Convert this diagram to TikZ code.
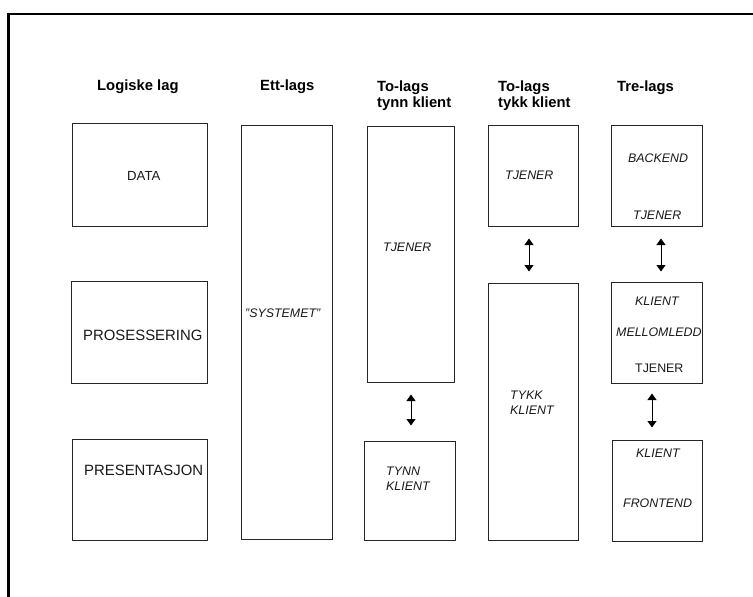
\documentclass[tikz,border=0pt]{standalone}
\usepackage{fontspec}
\setmainfont{Liberation Sans}
\usetikzlibrary{arrows.meta}
\begin{document}
\begin{tikzpicture}[x=1pt,y=-1pt,
  box/.style={draw=black!85,line width=1pt,rectangle,inner sep=0pt},
  head/.style={anchor=base west,inner sep=0pt,font=\fontsize{14.8}{16}\selectfont\bfseries,align=left},
  lbl/.style={anchor=base west,inner sep=0pt,font=\fontsize{14.9}{16}\selectfont,text=black!90},
  ilbl/.style={anchor=base west,inner sep=0pt,font=\fontsize{12.4}{15}\selectfont\itshape,text=black!90,align=left},
  nlbl/.style={anchor=base west,inner sep=0pt,font=\fontsize{12.4}{15}\selectfont,text=black!90},
  link/.style={line width=1pt,{Triangle[width=9pt,length=6.5pt]}-{Triangle[width=9pt,length=6.5pt]}}]
\useasboundingbox (0,0) rectangle (753,597);
\fill[white] (0,0) rectangle (753,597);
% outer frame, open to the right and bottom
\draw[line width=2.4pt] (8.5,605) -- (8.5,14) -- (760,14);

% column headings (multi-line nodes sit on the baseline of their last line)
\node[head] (h1) at (97,90) {Logiske lag};
\node[head] (h2) at (260,90) {Ett-lags};
\node[head] (h3) at (377,107) {To-lags\\tynn klient};
\node[head] (h4) at (498,107) {To-lags\\tykk klient};
\node[head] (h5) at (617,91) {Tre-lags};

% logical layers
\node[box,minimum width=135pt,minimum height=103pt] (data) at (139.5,174.5) {};
\node[box,minimum width=136pt,minimum height=102pt] (pros) at (139,332) {};
\node[box,minimum width=135pt,minimum height=101pt] (pres) at (139.5,489.5) {};
\node[lbl,font=\fontsize{13.2}{15}\selectfont] (tdata) at (127,180) {DATA};
\node[lbl] (tpros) at (83,340) {PROSESSERING};
\node[lbl] (tpres) at (84,475) {PRESENTASJON};

% one tier
\node[box,minimum width=91pt,minimum height=414pt] (sys) at (286.5,332) {};
\node[ilbl] (tsys) at (245,317) {"SYSTEMET"};

% two tier, thin client
\node[box,minimum width=87pt,minimum height=256pt] (srv1) at (410.5,254) {};
\node[box,minimum width=91pt,minimum height=99pt] (thin) at (409.5,490.5) {};
\node[ilbl] (tsrv1) at (383,251) {TJENER};
\node[ilbl] (tthin) at (386,490) {TYNN\\KLIENT};
\draw[link,shorten <=12pt,shorten >=15pt] ([xshift=0.5pt]srv1.south) -- ([xshift=0.5pt]srv1.south |- thin.north);

% two tier, thick client
\node[box,minimum width=90pt,minimum height=101pt] (srv2) at (533,175.5) {};
\node[box,minimum width=90pt,minimum height=257pt] (thick) at (533,411.5) {};
\node[ilbl] (tsrv2) at (505,179) {TJENER};
\node[ilbl] (tthick) at (510,414) {TYKK\\KLIENT};
\draw[link,shorten <=12pt,shorten >=11pt] ([xshift=-4pt]srv2.south) -- ([xshift=-4pt]srv2.south |- thick.north);

% three tier
\node[box,minimum width=91pt,minimum height=101pt] (back) at (656.5,175.5) {};
\node[box,minimum width=91pt,minimum height=101pt] (mid) at (656.5,332.5) {};
\node[box,minimum width=90pt,minimum height=101pt] (front) at (657,490.5) {};
\node[ilbl] (tback) at (628,162) {BACKEND};
\node[ilbl] (tbsrv) at (633,219) {TJENER};
\node[ilbl] (tmkl) at (635,305) {KLIENT};
\node[ilbl] (tmid) at (616,336) {MELLOMLEDD};
\node[nlbl] (tmsrv) at (635,372) {TJENER};
\node[ilbl] (tfkl) at (636,457) {KLIENT};
\node[ilbl] (tfront) at (623,507) {FRONTEND};
\draw[link,shorten <=12pt,shorten >=10pt] ([xshift=4.5pt]back.south) -- ([xshift=4.5pt]back.south |- mid.north);
\draw[link,shorten <=10pt,shorten >=12pt] ([xshift=-4.5pt]mid.south) -- ([xshift=-4.5pt]mid.south |- front.north);
\end{tikzpicture}
\end{document}
